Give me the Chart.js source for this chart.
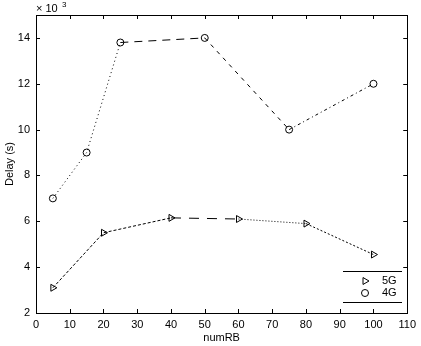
<!DOCTYPE html>
<html>
<head>
<meta charset="utf-8">
<script src="https://cdn.jsdelivr.net/npm/chart.js@4"></script>
<style>
  html, body { margin: 0; padding: 0; background: #fff; }
  #wrap { width: 421px; height: 346px; }
</style>
</head>
<body>
<div id="wrap"><canvas id="delayChart" width="421" height="346"></canvas></div>
<script>
// values (delay in units of 10^3 s)
var x4G = [5, 15, 25, 50, 75, 100];
var delay4G = [7, 9, 13.8, 14, 10, 12];
var x5G = [5, 20, 40, 60, 80, 100];
var delay5G = [3.1, 5.5, 6.15, 6.1, 5.9, 4.55];
var xTicks = [0, 10, 20, 30, 40, 50, 60, 70, 80, 90, 100, 110];
var yTicks = [2, 4, 6, 8, 10, 12, 14];

// dash pattern for each line segment
var dash4G = [[1, 3], [1, 3], [8, 6], [4, 5], [3, 3, 1, 3], [1, 3]];
var dash5G = [[3, 2], [3, 2], [10, 8], [1, 2], [2, 2], [2, 2]];

var FAMILY = '"Liberation Sans", Arial, sans-serif';
var FONT = '11px ' + FAMILY;

function toPoints(xs, ys) {
    return xs.map(function (x, i) { return { x: x, y: ys[i] }; });
}

// box, inward ticks, exponent label and legend in MATLAB style
var matlabFrame = {
    id: 'matlabFrame',
    afterDraw: function (chart) {
        var c = chart.ctx;
        var a = chart.chartArea;
        var xs = chart.scales.x, ys = chart.scales.y;
        c.save();
        c.strokeStyle = '#000';
        c.lineWidth = 1;
        c.strokeRect(Math.round(a.left) + 0.5, Math.round(a.top) + 0.5,
            Math.round(a.right - a.left), Math.round(a.bottom - a.top));
        c.beginPath();
        xTicks.forEach(function (v) {
            var px = Math.round(xs.getPixelForValue(v)) + 0.5;
            c.moveTo(px, a.bottom); c.lineTo(px, a.bottom - 4);
            c.moveTo(px, a.top); c.lineTo(px, a.top + 4);
        });
        yTicks.forEach(function (v) {
            var py = Math.round(ys.getPixelForValue(v)) + 0.5;
            c.moveTo(a.left, py); c.lineTo(a.left + 4, py);
            c.moveTo(a.right, py); c.lineTo(a.right - 4, py);
        });
        c.stroke();

        // x 10^3
        c.fillStyle = '#000';
        c.font = FONT;
        c.textBaseline = 'alphabetic';
        c.textAlign = 'left';
        c.fillText('\u00d7 10', a.left, 12);
        c.font = '8px ' + FAMILY;
        c.fillText('3', a.left + 26, 7);

        // legend
        var lx0 = 343, lx1 = 402;
        c.beginPath();
        c.moveTo(lx0, 271.5); c.lineTo(lx1, 271.5);
        c.moveTo(lx0, 302.5); c.lineTo(lx1, 302.5);
        c.stroke();
        c.fillStyle = 'rgba(0,0,0,0)';
        Chart.helpers.drawPoint(c, { pointStyle: 'triangle', radius: 4, rotation: 90, borderWidth: 1 }, 365, 281);
        c.beginPath();
        c.arc(365, 293, 3.5, 0, Math.PI * 2);
        c.stroke();
        c.fillStyle = '#000';
        c.font = FONT;
        c.textBaseline = 'middle';
        c.fillText('5G', 382, 281);
        c.fillText('4G', 382, 293);
        c.restore();
    }
};

var ctx = document.getElementById('delayChart').getContext('2d');
var delayChart = new Chart(ctx, {
    type: 'scatter',
    data: {
        datasets: [{
            label: '5G',
            data: toPoints(x5G, delay5G),
            showLine: true,
            borderColor: '#000',
            backgroundColor: 'rgba(0,0,0,0)',
            borderWidth: 1,
            pointStyle: 'triangle',
            pointRotation: 90,
            pointRadius: 4,
            pointBorderWidth: 1,
            segment: {
                borderDash: function (s) { return dash5G[s.p0DataIndex]; }
            }
        }, {
            label: '4G',
            data: toPoints(x4G, delay4G),
            showLine: true,
            borderColor: '#000',
            backgroundColor: 'rgba(0,0,0,0)',
            borderWidth: 1,
            pointStyle: 'circle',
            pointRadius: 3.5,
            pointBorderWidth: 1,
            segment: {
                borderDash: function (s) { return dash4G[s.p0DataIndex]; }
            }
        }]
    },
    options: {
        responsive: false,
        animation: false,
        layout: { padding: { top: 15, right: 13, left: 3, bottom: 0 } },
        plugins: {
            legend: { display: false },
            tooltip: { enabled: false }
        },
        scales: {
            x: {
                type: 'linear',
                min: 0,
                max: 110,
                afterBuildTicks: function (s) { s.ticks = xTicks.map(function (v) { return { value: v }; }); },
                afterFit: function (s) { s.height = 33; },
                grid: { display: false, drawTicks: false },
                border: { display: false },
                ticks: { color: '#000', font: { family: FAMILY, size: 11 }, padding: 5, maxRotation: 0 },
                title: { display: true, text: 'numRB', color: '#000', font: { family: FAMILY, size: 11 }, padding: { top: 0, bottom: 1 } }
            },
            y: {
                type: 'linear',
                min: 2,
                max: 15,
                afterBuildTicks: function (s) { s.ticks = yTicks.map(function (v) { return { value: v }; }); },
                afterFit: function (s) { s.width = 33; },
                grid: { display: false, drawTicks: false },
                border: { display: false },
                ticks: { color: '#000', font: { family: FAMILY, size: 11 }, padding: 6 },
                title: { display: true, text: 'Delay (s)', color: '#000', font: { family: FAMILY, size: 11 }, padding: { top: 0, bottom: 0 } }
            }
        }
    },
    plugins: [matlabFrame]
});
</script>
</body>
</html>
